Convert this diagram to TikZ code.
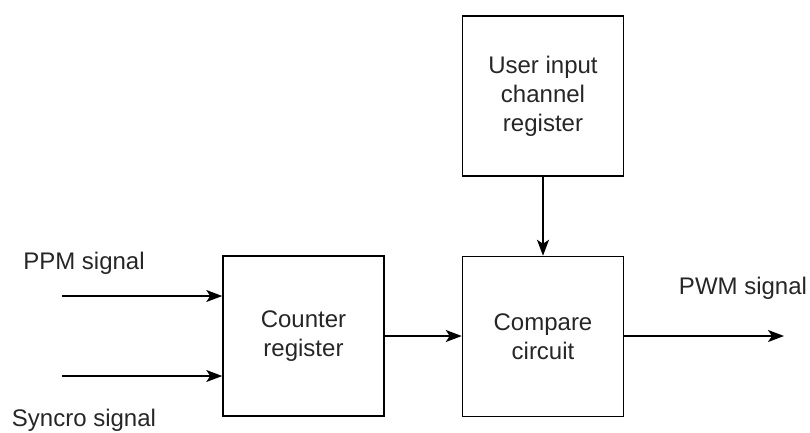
\documentclass[tikz,border=0pt]{standalone}
\usepackage{fontspec}
\setmainfont{Liberation Sans}
\usetikzlibrary{arrows.meta}
\begin{document}
\begin{tikzpicture}[x=1pt,y=-1pt,
  blk/.style={draw, line width=1.5pt, minimum width=161pt, minimum height=160pt, inner sep=0pt,
    font=\fontsize{24}{29}\selectfont, text=black!85, align=center},
  lbl/.style={font=\fontsize{24}{29}\selectfont, text=black!85, inner sep=0pt},
  arr/.style={line width=1.6pt, -{Stealth[length=16pt,width=12pt,inset=4pt]}}]
\useasboundingbox (0,0) rectangle (810,432);
\node[blk] (cnt) at (303.5,336) {Counter\\register};
\node[blk] (cmp) at (543,336.5) {Compare\\circuit};
\node[blk] (usr) at (543,96) {User input\\channel\\register};
\coordinate (ppm) at (62,296);
\coordinate (syn) at (62,376);
\coordinate (out) at (784,336);
\node[lbl] (ppml) at (84,263) {PPM signal};
\node[lbl] (synl) at (84,420) {Syncro signal};
\node[lbl] (pwml) at (743,288) {PWM signal};
\draw[arr] (ppm) -- (ppm -| cnt.west);
\draw[arr] (syn) -- (syn -| cnt.west);
\draw[arr] (cnt.east) -- (cnt.east -| cmp.west);
\draw[arr] (usr.south) -- (cmp.north);
\draw[arr] (cmp.east |- out) -- (out);
\end{tikzpicture}
\end{document}
